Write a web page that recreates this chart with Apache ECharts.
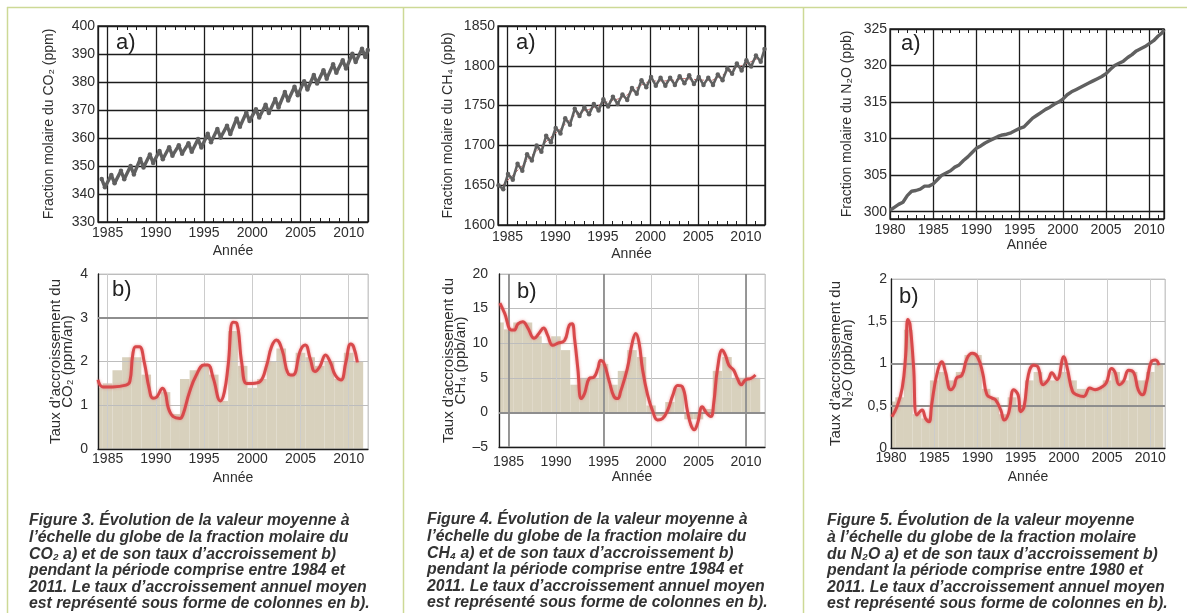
<!DOCTYPE html>
<html><head><meta charset="utf-8">
<script src="https://cdn.jsdelivr.net/npm/echarts@6/dist/echarts.min.js"></script>
<style>html,body{margin:0;padding:0;background:#fff;}#c{width:1187px;height:613px;}</style>
</head><body><div id="c"></div>
<script>
// ================= DATA =================
const years84 = [1984,1985,1986,1987,1988,1989,1990,1991,1992,1993,1994,1995,1996,1997,1998,1999,2000,2001,2002,2003,2004,2005,2006,2007,2008,2009,2010,2011];
const years80 = [1980,1981,1982,1983].concat(years84);

// CO2 mole fraction (ppm): seasonal maximum (May) and minimum (Sept) of each year
const co2Peak   = [345.4,346.8,348.3,350.0,352.5,354.1,355.4,356.7,357.4,358.1,359.6,361.5,363.2,364.4,367.0,369.1,370.3,371.9,373.9,376.4,378.3,380.3,382.5,384.2,386.3,387.8,390.1,391.9];
const co2Trough = [342.4,343.8,345.3,347.0,349.5,351.1,352.4,353.7,354.4,355.1,356.6,358.5,360.2,361.4,364.0,366.1,367.3,368.9,370.9,373.4,375.3,377.3,379.5,381.2,383.3,384.8,387.1,388.9];
const co2Last = [2011.98, 391.4];

// CH4 mole fraction (ppb): winter maximum, summer minimum, deseasonalised trend
const ch4Peak   = [1650,1664,1677,1689,1700,1712,1722,1734,1746,1748,1752,1758,1761,1764,1772,1782,1786,1785,1785,1787,1788,1786,1785,1789,1797,1803,1807,1813];
const ch4Trough = [1645,1657,1668,1681,1692,1704,1715,1726,1737,1739,1744,1749,1752,1757,1765,1773,1775,1775,1776,1778,1777,1776,1776,1782,1790,1794,1799,1805];
const ch4Trend  = [1650,1662,1674,1687,1698,1710,1720,1732,1742,1745,1750,1755,1758,1763,1772,1779,1781,1781,1782,1784,1783,1782,1782,1788,1796,1800,1805,1811];
const ch4Last = [2011.95, 1821];

// N2O mole fraction (ppb), half-year samples
const n2oT = [1980,1980.5,1981,1981.5,1982,1982.5,1983,1983.5,1984,1984.5,1985,1985.5,1986,1986.5,1987,1987.5,1988,1988.5,1989,1989.5,1990,1990.5,1991,1991.5,1992,1992.5,1993,1993.5,1994,1994.5,1995,1995.5,1996,1996.5,1997,1997.5,1998,1998.5,1999,1999.5,2000,2000.5,2001,2001.5,2002,2002.5,2003,2003.5,2004,2004.5,2005,2005.5,2006,2006.5,2007,2007.5,2008,2008.5,2009,2009.5,2010,2010.5,2011,2011.5,2011.7];
const n2oV = [300.2,300.6,301.0,301.3,302.2,302.8,302.9,303.1,303.5,303.5,303.8,304.4,305.0,305.3,305.6,306.1,306.4,307.0,307.5,308.1,308.7,309.0,309.4,309.7,310.0,310.3,310.5,310.6,310.8,311.1,311.4,311.6,312.2,312.8,313.2,313.6,314.0,314.3,314.7,315.0,315.4,316.0,316.4,316.7,317.0,317.3,317.6,317.9,318.2,318.5,318.9,319.5,320.0,320.3,320.6,321.1,321.5,322.0,322.3,322.6,323.0,323.4,324.0,324.5,324.9];

// Growth rates (smoothed curves)
const co2RateT = [1984.0,1984.5,1985.5,1986.9,1987.3,1987.6,1987.9,1988.3,1988.8,1989.3,1989.7,1990.1,1990.7,1991.0,1991.3,1991.8,1992.5,1992.8,1993.5,1994.2,1995.0,1995.4,1995.95,1996.7,1997.1,1997.5,1998.0,1998.4,1998.9,1999.4,2000.0,2000.8,2001.5,2002.0,2002.5,2003.1,2003.7,2004.2,2005.0,2005.5,2006.0,2006.5,2007.0,2007.6,2008.1,2008.6,2009.2,2009.7,2010.2,2010.5,2010.9];
const co2RateV = [1.58,1.42,1.42,1.46,1.54,2.15,2.34,2.34,1.98,1.39,1.16,1.19,1.39,1.27,0.93,0.74,0.70,0.78,1.31,1.69,1.92,1.92,1.62,1.10,1.30,1.92,2.90,2.87,1.98,1.50,1.50,1.54,1.92,2.34,2.49,2.26,1.73,1.69,2.26,2.38,2.07,1.77,1.88,2.15,1.98,1.69,1.58,1.98,2.40,2.34,1.98];
const ch4RateT = [1984.1,1984.6,1985.3,1985.6,1986.0,1986.5,1987.0,1987.7,1988.2,1988.7,1989.1,1989.65,1990.2,1990.9,1991.4,1991.7,1991.95,1992.3,1992.65,1993.0,1993.5,1994.0,1994.4,1994.7,1995.05,1995.6,1996.1,1996.5,1996.8,1997.5,1998.05,1998.4,1998.75,1999.1,1999.65,2000.2,2000.7,2001.2,2001.75,2002.3,2002.8,2003.3,2003.85,2004.2,2004.55,2004.9,2005.4,2005.85,2006.3,2006.6,2007.0,2007.5,2007.85,2008.2,2008.7,2009.1,2009.5,2009.95,2010.5,2011.0];
const ch4RateV = [15.8,14.3,11.9,11.9,12.8,13.1,12.3,10.7,11.4,12.2,11.2,9.7,10.0,10.4,12.6,12.8,10.7,6.3,2.0,2.7,4.9,5.1,6.3,7.5,7.1,4.5,2.3,2.0,3.0,6.3,10.2,11.4,10.0,6.3,2.5,0.1,-1.1,-0.9,0.3,2.5,3.9,3.7,0.1,-1.8,-2.5,-1.6,0.8,-0.1,-0.6,1.3,6.3,9.0,8.2,6.8,6.1,4.9,4.0,4.7,4.9,5.4];
const n2oRateT = [1980.1,1980.7,1981.3,1981.7,1981.95,1982.2,1982.6,1983.0,1983.6,1984.0,1984.4,1984.7,1985.3,1985.9,1986.3,1986.9,1987.3,1987.6,1988.2,1988.8,1989.4,1990.0,1990.6,1991.1,1991.7,1992.1,1992.7,1993.1,1993.6,1994.2,1994.7,1995.0,1995.4,1995.9,1996.5,1997.0,1997.6,1998.2,1998.6,1999.2,2000.0,2000.4,2001.0,2001.5,2002.3,2003.0,2003.6,2004.2,2004.9,2005.5,2005.9,2006.4,2006.9,2007.5,2008.1,2008.6,2009.1,2009.6,2010.1,2010.6,2011.0];
const n2oRateV = [0.37,0.49,0.71,1.10,1.52,1.46,0.98,0.39,0.45,0.35,0.31,0.51,0.87,1.02,0.90,0.69,0.73,0.83,0.86,1.06,1.12,1.08,0.89,0.63,0.59,0.57,0.45,0.33,0.41,0.69,0.63,0.43,0.49,0.87,0.98,0.96,0.75,0.81,0.89,0.81,1.08,0.94,0.67,0.63,0.61,0.71,0.69,0.71,0.77,0.94,0.90,0.75,0.79,0.92,0.89,0.69,0.63,0.79,1.02,1.04,0.98];

// Annual mean growth rates (columns)
const co2Bars = [1.4,1.5,1.8,2.1,2.1,1.7,1.2,1.3,0.8,1.6,1.8,1.9,1.7,1.1,2.7,1.9,1.4,1.6,2.0,2.3,1.7,2.2,2.1,1.9,2.0,1.6,2.2,2.0];
const ch4Bars = [13,12,13,13,11,10,11,9,4,5,5,7,4,6,9,8,1,-0.5,1.5,3.5,-1,-1,0.5,6,8,5,5,5];
const n2oBars = [0.55,0.6,1.4,0.4,0.35,0.8,0.9,0.8,0.9,1.1,1.1,0.7,0.6,0.4,0.6,0.5,0.8,0.9,0.8,0.8,0.9,0.8,0.7,0.7,0.7,0.8,0.9,0.8,0.9,0.8,0.9,1.0];

// Text
const captions = [
  ['Figure 3. Évolution de la valeur moyenne à','l’échelle du globe de la fraction molaire du','CO₂ a) et de son taux d’accroissement b)','pendant la période comprise entre 1984 et','2011. Le taux d’accroissement annuel moyen','est représenté sous forme de colonnes en b).'],
  ['Figure 4. Évolution de la valeur moyenne à','l’échelle du globe de la fraction molaire du','CH₄ a) et de son taux d’accroissement b)','pendant la période comprise entre 1984 et','2011. Le taux d’accroissement annuel moyen','est représenté sous forme de colonnes en b).'],
  ['Figure 5. Évolution de la valeur moyenne','à l’échelle du globe de la fraction molaire','du N₂O a) et de son taux d’accroissement b)','pendant la période comprise entre 1980 et','2011. Le taux d’accroissement annuel moyen','est représenté sous forme de colonnes en b).']
];
const topNames = ['Fraction molaire du CO₂ (ppm)','Fraction molaire du CH₄ (ppb)','Fraction molaire du N₂O (ppb)'];
const botNames = ['Taux d’accroissement du\nCO₂ (ppm/an)','Taux d’accroissement du\nCH₄ (ppb/an)','Taux d’accroissement du\nN₂O (ppb/an)'];
const xName = 'Année';

// ================= CHART =================
const FONT = '"Liberation Sans", Arial, sans-serif';
const TXT = '#2e2e2e';
const DARK = '#1c1c1c';
const chart = echarts.init(document.getElementById('c'), null, {renderer:'canvas'});

const seasonal = (years, pk, tr, pPh, tPh, last) => {
  const out = [];
  years.forEach((y,i)=>{ out.push([y+pPh, pk[i]]); out.push([y+tPh, tr[i]]); });
  if (last) out.push(last);
  return out;
};
const zip = (a,b) => a.map((v,i)=>[v,b[i]]);

const grids = [
  {left:98, top:26, width:270, height:196},
  {left:498, top:26, width:267, height:199},
  {left:890, top:29, width:274, height:190},
  {left:98, top:274, width:270, height:175},
  {left:499, top:274, width:266, height:173},
  {left:891, top:279, width:274, height:169}
].map((g,i)=>Object.assign(g, i<3
  ? {show:true, borderColor:DARK, borderWidth:1.3, backgroundColor:'#fff', outerBoundsMode:'none', containLabel:false}
  : {show:true, borderColor:'#c9c9c9', borderWidth:1, backgroundColor:'transparent', outerBoundsMode:'none', containLabel:false}));

const lblStyle = (extra) => Object.assign({color:TXT, fontSize:14, fontFamily:FONT, formatter: v => String(v)}, extra||{});
const nameStyle = {color:TXT, fontSize:14, fontFamily:FONT};

const xAxis = [];
const xRanges = [[1984,2012],[1984,2012],[1980,2011.7]];
const topGaps = [[4,22],[5,22],[4,19]];
xRanges.forEach((r,i)=>{
  xAxis.push({gridIndex:i, type:'value', min:r[0], max:r[1], position:'bottom',
    axisLine:{show:false}, axisTick:{show:false},
    axisLabel: lblStyle({margin:topGaps[i][0], showMinLabel:i===2, showMaxLabel:false}),
    splitLine:{show:true, lineStyle:{color:DARK, width:1.3}},
    name:xName, nameLocation:'middle', nameGap:topGaps[i][1], nameTextStyle:nameStyle});
  ['bottom','top'].forEach(pos=>xAxis.push({gridIndex:i, type:'value', min:r[0], max:r[1], interval:1, position:pos,
    axisLine:{show:false}, axisLabel:{show:false}, splitLine:{show:false},
    axisTick:{show:true, inside:true, length:4, lineStyle:{color:DARK, width:1}}}));
});
const botGaps = [[3,22],[8,23],[3,22]];
xRanges.forEach((r,i)=>{
  xAxis.push({gridIndex:3+i, type:'value', min:r[0], max:r[1], position:'bottom',
    axisLine:{show:true, onZero:false, lineStyle:{color:DARK, width:1.3}}, axisTick:{show:false},
    axisLabel: lblStyle({margin:botGaps[i][0], showMinLabel:i===2, showMaxLabel:false}),
    splitLine:{show:true, lineStyle:{color:'#cccccc', width:1}},
    name:xName, nameLocation:'middle', nameGap:botGaps[i][1], nameTextStyle:nameStyle});
});
// main x-axis indices
const XI = [0,3,6,9,10,11];

const yTop = [
  {min:330, max:400, interval:10, gap:42},
  {min:1600, max:1850, interval:50, gap:43},
  {min:299, max:325, gap:36}
];
const yBot = [
  {min:0, max:4, interval:1, gap:24, margin:10, fmt: v=>String(v)},
  {min:-5, max:20, interval:5, gap:30, margin:11, fmt: v=>String(v).replace('-','–')},
  {min:0, max:2, interval:0.5, gap:37, margin:4, fmt: v=>String(v).replace('.',',')}
];
const yAxis = [];
yTop.forEach((a,i)=>yAxis.push({gridIndex:i, type:'value', min:a.min, max:a.max, interval:a.interval,
  axisLine:{show:false}, axisTick:{show:false},
  axisLabel: lblStyle({margin:3, showMinLabel: a.interval ? true : false}),
  splitLine:{show:true, lineStyle:{color:DARK, width:1.3}},
  name:topNames[i], nameLocation:'middle', nameRotate:90, nameGap:a.gap, nameTextStyle:nameStyle}));
yBot.forEach((a,i)=>yAxis.push({gridIndex:3+i, type:'value', min:a.min, max:a.max, interval:a.interval,
  axisLine:{show:true, onZero:false, lineStyle:{color:DARK, width:1.3}}, axisTick:{show:false},
  axisLabel: lblStyle({margin:a.margin, formatter:a.fmt}),
  splitLine:{show:true, lineStyle:{color:'#bdbdbd', width:1}},
  name:botNames[i], nameLocation:'middle', nameRotate:90, nameGap:a.gap,
  nameTextStyle:{color:TXT, fontFamily:FONT, fontSize:15, lineHeight:12}}));

const GRAY = '#606060';
const RED = '#d8494b';
const BEIGE = '#d8d1bd';

function barSeries(gi, years, vals, marks) {
  return {type:'custom', xAxisIndex:XI[gi], yAxisIndex:gi, z:-1, silent:true,
    data: zip(years, vals), encode:{x:0, y:1},
    renderItem:(params, api)=>{
      const x = api.value(0), v = api.value(1);
      const a = api.coord([x-0.5, v]), b = api.coord([x+0.5, 0]);
      const cs = params.coordSys;
      const rect = echarts.graphic.clipRectByRect(
        {x:Math.min(a[0],b[0]), y:Math.min(a[1],b[1]), width:Math.abs(b[0]-a[0]), height:Math.abs(b[1]-a[1])},
        {x:cs.x, y:cs.y, width:cs.width, height:cs.height});
      return rect ? {type:'rect', shape:rect, style:{fill:BEIGE}} : null;
    },
    markLine: marks ? {silent:true, symbol:'none', label:{show:false}, animation:false,
      lineStyle:{color:'#8e8e8e', width:1.8, type:'solid'}, data:marks} : undefined
  };
}
function rateSeries(gi, t, v) {
  return {type:'line', xAxisIndex:XI[gi], yAxisIndex:gi, z:10, silent:true, smooth:0.45,
    showSymbol:false, data: zip(t, v),
    lineStyle:{color:RED, width:3, shadowBlur:3, shadowColor:'rgba(230,110,110,0.7)'}};
}

const series = [
  {type:'line', xAxisIndex:0, yAxisIndex:0, z:5, silent:true, data: seasonal(years84, co2Peak, co2Trough, 0.38, 0.72, co2Last),
   symbol:'circle', symbolSize:4.5, showSymbol:true, itemStyle:{color:GRAY}, lineStyle:{color:GRAY, width:3.4}},
  {type:'line', xAxisIndex:3, yAxisIndex:1, z:4, silent:true, data: zip(years84.map(y=>y+0.5), ch4Trend),
   showSymbol:false, lineStyle:{color:'#c46b6b', width:1, type:'dashed'}},
  {type:'line', xAxisIndex:3, yAxisIndex:1, z:5, silent:true, data: seasonal(years84, ch4Peak, ch4Trough, 0.05, 0.55, ch4Last),
   symbol:'circle', symbolSize:4.5, showSymbol:true, itemStyle:{color:GRAY}, lineStyle:{color:GRAY, width:2.6}},
  {type:'line', xAxisIndex:6, yAxisIndex:2, z:5, silent:true, data: zip(n2oT, n2oV),
   showSymbol:false, lineStyle:{color:GRAY, width:3.4}},
  barSeries(3, years84, co2Bars, [{yAxis:3}]),
  rateSeries(3, co2RateT, co2RateV),
  barSeries(4, years84, ch4Bars, [{yAxis:0},{xAxis:1985},{xAxis:1995},{xAxis:2010}]),
  rateSeries(4, ch4RateT, ch4RateV),
  barSeries(5, years80, n2oBars, [{yAxis:0.5},{yAxis:1}]),
  rateSeries(5, n2oRateT, n2oRateV)
];

// Graphic: frame lines, panel letters, captions
const FRAME = '#cdd996';
const graphic = [
  {type:'line', shape:{x1:7, y1:7.5, x2:1187, y2:7.5}, style:{stroke:FRAME, lineWidth:1.5}, silent:true},
  {type:'line', shape:{x1:7.5, y1:7, x2:7.5, y2:613}, style:{stroke:FRAME, lineWidth:1.5}, silent:true},
  {type:'line', shape:{x1:403.5, y1:7, x2:403.5, y2:613}, style:{stroke:FRAME, lineWidth:1.5}, silent:true},
  {type:'line', shape:{x1:803.5, y1:7, x2:803.5, y2:613}, style:{stroke:FRAME, lineWidth:1.5}, silent:true}
];
const letters = [['a)',116,43],['a)',516,43],['a)',901,44],['b)',112,290],['b)',517,292],['b)',899,297]];
letters.forEach(l=>graphic.push({type:'text', x:l[1], y:l[2], z:50, silent:true,
  style:{text:l[0], fill:'#222', font:'22px '+FONT, verticalAlign:'middle', align:'left'}}));
const capX = [29, 427, 827];
const capY0 = [521, 520, 521];
captions.forEach((lines,ci)=>lines.forEach((s,li)=>graphic.push({type:'text', x:capX[ci], y:capY0[ci]+li*16.6, z:50, silent:true,
  style:{text:s, fill:'#333333', font:'italic bold 15.8px '+FONT, verticalAlign:'middle', align:'left'}})));

chart.setOption({animation:false, backgroundColor:'#fff', grid:grids, xAxis, yAxis, series, graphic});
</script></body></html>
